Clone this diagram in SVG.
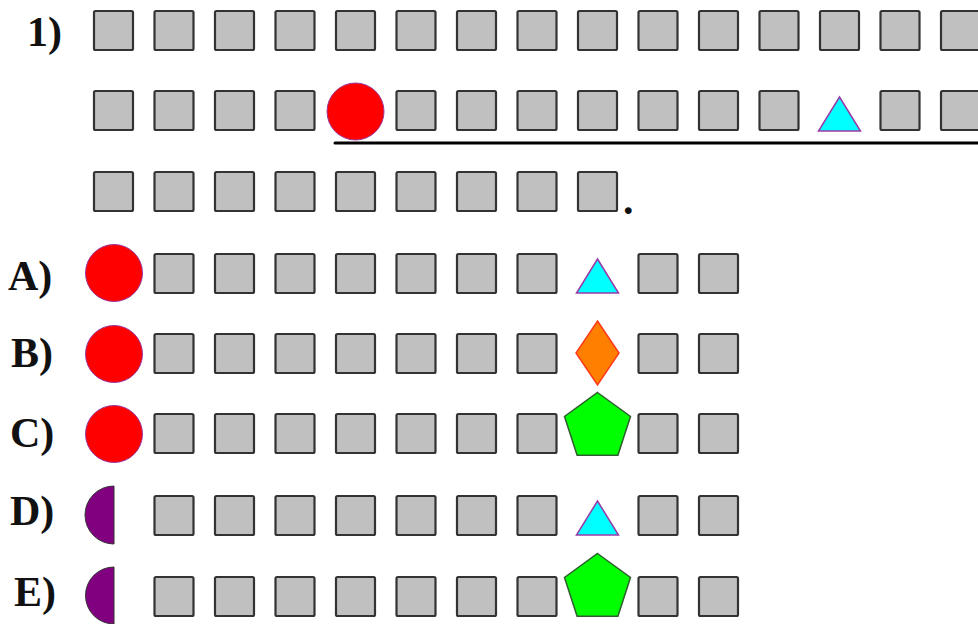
<svg xmlns="http://www.w3.org/2000/svg" xmlns:xlink="http://www.w3.org/1999/xlink" width="978" height="624" viewBox="0 0 978 624">
<style>
.sq{fill:#c0c0c0;stroke:#333333;stroke-width:2.2}
.circ{fill:#ff0000;stroke:#9a3a9a;stroke-width:1}
.tri{fill:#00ffff;stroke:#9a3aaa;stroke-width:1.5;stroke-linejoin:miter}
.dia{fill:#ff8000;stroke:#ff3a1a;stroke-width:1.5}
.pent{fill:#00ff00;stroke:#2f5f2f;stroke-width:1.5}
.half{fill:#800080;stroke:#333333;stroke-width:1}
.lbl{font-family:"Liberation Serif","Times New Roman",serif;font-size:42px;font-weight:bold;fill:#111}
</style>
<defs>
<rect id="s" x="0" y="0" width="39" height="39" rx="1.5" class="sq"/>
<path id="tr" d="M0,0 L21,34 L-21,34 Z" class="tri"/>
<path id="pe" d="M0,0 L33,24 L20.4,62.8 L-20.4,62.8 L-33,24 Z" class="pent"/>
</defs>
<rect width="978" height="624" fill="#ffffff"/>

<g id="label-1"><text class="lbl" x="27" y="46" font-size="38">1)</text></g>
<g id="label-A"><text class="lbl" x="8" y="290">A)</text></g>
<g id="label-B"><text class="lbl" x="11" y="367">B)</text></g>
<g id="label-C"><text class="lbl" x="10" y="447">C)</text></g>
<g id="label-D"><text class="lbl" x="10" y="525">D)</text></g>
<g id="label-E"><text class="lbl" x="14" y="606">E)</text></g>

<g id="connectors">
<line x1="335" y1="143" x2="978" y2="143" stroke="#000" stroke-width="3" stroke-linecap="round"/>
</g>

<g id="row1">
<use xlink:href="#s" x="94" y="11"/><use xlink:href="#s" x="154.5" y="11"/><use xlink:href="#s" x="215" y="11"/><use xlink:href="#s" x="275.5" y="11"/><use xlink:href="#s" x="336" y="11"/><use xlink:href="#s" x="396.5" y="11"/><use xlink:href="#s" x="457" y="11"/><use xlink:href="#s" x="517.5" y="11"/><use xlink:href="#s" x="578" y="11"/><use xlink:href="#s" x="638.5" y="11"/><use xlink:href="#s" x="699" y="11"/><use xlink:href="#s" x="759.5" y="11"/><use xlink:href="#s" x="820" y="11"/><use xlink:href="#s" x="880.5" y="11"/><use xlink:href="#s" x="941" y="11"/>
</g>

<g id="row2">
<use xlink:href="#s" x="94" y="91"/><use xlink:href="#s" x="154.5" y="91"/><use xlink:href="#s" x="215" y="91"/><use xlink:href="#s" x="275.5" y="91"/>
<circle id="row2-circle" cx="355.5" cy="111.5" r="28.5" class="circ"/>
<use xlink:href="#s" x="396.5" y="91"/><use xlink:href="#s" x="457" y="91"/><use xlink:href="#s" x="517.5" y="91"/><use xlink:href="#s" x="578" y="91"/><use xlink:href="#s" x="638.5" y="91"/><use xlink:href="#s" x="699" y="91"/><use xlink:href="#s" x="759.5" y="91"/>
<use id="row2-triangle" xlink:href="#tr" x="839.5" y="97"/>
<use xlink:href="#s" x="880.5" y="91"/><use xlink:href="#s" x="941" y="91"/>
</g>

<g id="row3">
<use xlink:href="#s" x="94" y="172"/><use xlink:href="#s" x="154.5" y="172"/><use xlink:href="#s" x="215" y="172"/><use xlink:href="#s" x="275.5" y="172"/><use xlink:href="#s" x="336" y="172"/><use xlink:href="#s" x="396.5" y="172"/><use xlink:href="#s" x="457" y="172"/><use xlink:href="#s" x="517.5" y="172"/><use xlink:href="#s" x="578" y="172"/>
<text class="lbl" x="623" y="214">.</text>
</g>

<g id="option-A">
<circle cx="114" cy="273" r="28.5" class="circ"/>
<use xlink:href="#s" x="154.5" y="254"/><use xlink:href="#s" x="215" y="254"/><use xlink:href="#s" x="275.5" y="254"/><use xlink:href="#s" x="336" y="254"/><use xlink:href="#s" x="396.5" y="254"/><use xlink:href="#s" x="457" y="254"/><use xlink:href="#s" x="517.5" y="254"/>
<use xlink:href="#tr" x="597.5" y="259"/>
<use xlink:href="#s" x="638.5" y="254"/><use xlink:href="#s" x="699" y="254"/>
</g>

<g id="option-B">
<circle cx="114" cy="354" r="28.5" class="circ"/>
<use xlink:href="#s" x="154.5" y="334"/><use xlink:href="#s" x="215" y="334"/><use xlink:href="#s" x="275.5" y="334"/><use xlink:href="#s" x="336" y="334"/><use xlink:href="#s" x="396.5" y="334"/><use xlink:href="#s" x="457" y="334"/><use xlink:href="#s" x="517.5" y="334"/>
<path d="M597.5,321 L619,353 L597.5,385 L576,353 Z" class="dia"/>
<use xlink:href="#s" x="638.5" y="334"/><use xlink:href="#s" x="699" y="334"/>
</g>

<g id="option-C">
<circle cx="114" cy="434" r="28.5" class="circ"/>
<use xlink:href="#s" x="154.5" y="414"/><use xlink:href="#s" x="215" y="414"/><use xlink:href="#s" x="275.5" y="414"/><use xlink:href="#s" x="336" y="414"/><use xlink:href="#s" x="396.5" y="414"/><use xlink:href="#s" x="457" y="414"/><use xlink:href="#s" x="517.5" y="414"/>
<use xlink:href="#s" x="638.5" y="414"/><use xlink:href="#s" x="699" y="414"/>
<use xlink:href="#pe" x="597.5" y="392.5"/>
</g>

<g id="option-D">
<path d="M114,486 A29,29 0 0 0 114,544 Z" class="half"/>
<use xlink:href="#s" x="154.5" y="496"/><use xlink:href="#s" x="215" y="496"/><use xlink:href="#s" x="275.5" y="496"/><use xlink:href="#s" x="336" y="496"/><use xlink:href="#s" x="396.5" y="496"/><use xlink:href="#s" x="457" y="496"/><use xlink:href="#s" x="517.5" y="496"/>
<use xlink:href="#tr" x="597.5" y="501"/>
<use xlink:href="#s" x="638.5" y="496"/><use xlink:href="#s" x="699" y="496"/>
</g>

<g id="option-E">
<path d="M114,567 A28.5,28.5 0 0 0 114,624 Z" class="half"/>
<use xlink:href="#s" x="154.5" y="577"/><use xlink:href="#s" x="215" y="577"/><use xlink:href="#s" x="275.5" y="577"/><use xlink:href="#s" x="336" y="577"/><use xlink:href="#s" x="396.5" y="577"/><use xlink:href="#s" x="457" y="577"/><use xlink:href="#s" x="517.5" y="577"/>
<use xlink:href="#s" x="638.5" y="577"/><use xlink:href="#s" x="699" y="577"/>
<use xlink:href="#pe" x="597.5" y="553.5"/>
</g>
</svg>
